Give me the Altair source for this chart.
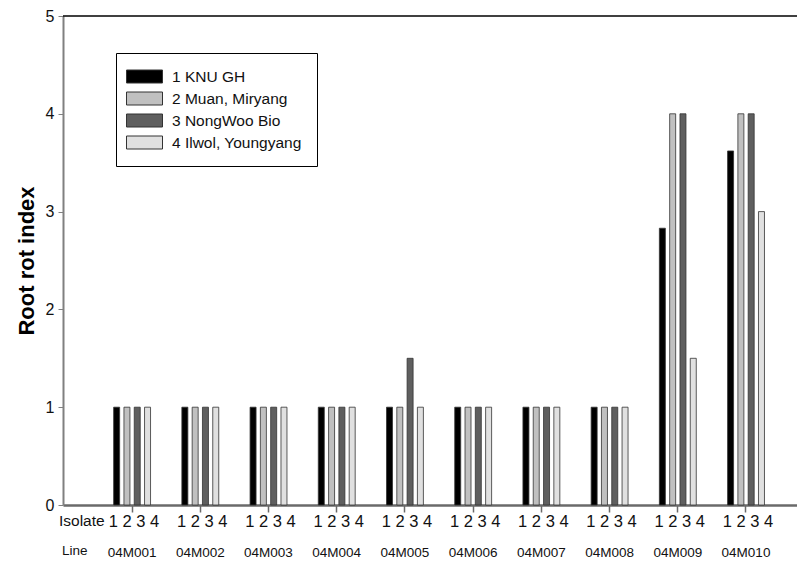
import altair as alt
import pandas as pd

# ---- data ----
lines = ["04M001", "04M002", "04M003", "04M004", "04M005",
         "04M006", "04M007", "04M008", "04M009", "04M010"]
isolates = ["1 KNU GH", "2 Muan, Miryang", "3 NongWoo Bio", "4 Ilwol, Youngyang"]
isolate_nums = ["1", "2", "3", "4"]
knu_gh = [1, 1, 1, 1, 1, 1, 1, 1, 2.83, 3.62]
muan_miryang = [1, 1, 1, 1, 1, 1, 1, 1, 4, 4]
nongwoo_bio = [1, 1, 1, 1, 1.5, 1, 1, 1, 4, 4]
ilwol_youngyang = [1, 1, 1, 1, 1, 1, 1, 1, 1.5, 3]
colors = ["#000000", "#c0c0c0", "#5f5f5f", "#e0e0e0"]
y_ticks = [0, 1, 2, 3, 4, 5]

rows = []
for iso, vals in zip(isolates, [knu_gh, muan_miryang, nongwoo_bio, ilwol_youngyang]):
    for ln, v in zip(lines, vals):
        rows.append({"Line": ln, "Isolate": iso, "Index": v})
df = pd.DataFrame(rows)

lab_df = pd.DataFrame({"Line": lines, "Iso": [" ".join(isolate_nums)] * len(lines)})

FONT = "Liberation Sans"
W, H = 734, 489

x_scale = alt.Scale(domain=lines, paddingInner=0, paddingOuter=0.38, align=0.674)
off_scale = alt.Scale(domain=isolates, range=[15.7, 52.6], paddingInner=0.417, paddingOuter=0)
y_scale = alt.Scale(domain=[0, 5], nice=False)

bars = alt.Chart(df).mark_bar(stroke="#333333", strokeWidth=0.8).encode(
    x=alt.X("Line:N", scale=x_scale, sort=lines,
            axis=alt.Axis(title=None, labelFontSize=13.5, labelPadding=33, labelFont=FONT,
                          labelColor="#111111", domainColor="#6a6a6a", domainWidth=2.5,
                          tickColor="#6a6a6a", tickSize=7, tickWidth=1.5, labelAngle=0)),
    xOffset=alt.XOffset("Isolate:N", scale=off_scale, sort=isolates),
    y=alt.Y("Index:Q", scale=y_scale,
            axis=alt.Axis(title="Root rot index", values=y_ticks, format="d", grid=False,
                          labelFontSize=16, labelFont=FONT, labelColor="#111111",
                          labelPadding=4, tickSize=5, tickColor="#808080",
                          domainColor="#808080", domainWidth=2,
                          titleFont=FONT, titleFontSize=22, titleFontWeight="bold",
                          titleColor="#000000", titlePadding=7)),
    color=alt.Color("Isolate:N", sort=isolates,
                    scale=alt.Scale(domain=isolates, range=colors),
                    legend=alt.Legend(title=None, orient="none", legendX=53, legendY=37,
                                      symbolType="M-1.625,-0.8125H2.875V0.8125H-1.625Z",
                                      symbolSize=256, symbolStrokeColor="#333333",
                                      symbolStrokeWidth=1, symbolOpacity=1,
                                      labelFontSize=15.5, labelFont=FONT, labelColor="#111111",
                                      labelOffset=24, strokeColor="#000000",
                                      fillColor="white", padding=15, rowPadding=5)),
)

top_line = alt.Chart(pd.DataFrame({"v": [5]})).mark_rule(color="#000000", strokeWidth=1.5).encode(
    y=alt.Y("v:Q", scale=y_scale)
)

iso_text = alt.Chart(lab_df).mark_text(fontSize=16.5, font=FONT, color="#111111",
                                       baseline="middle", dy=17, dx=2).encode(
    x=alt.X("Line:N", scale=x_scale, sort=lines),
    y=alt.datum(0),
    text="Iso:N",
)

isolate_word = alt.Chart(pd.DataFrame({"t": ["Isolate"]})).mark_text(
    fontSize=15.5, font=FONT, color="#111111", align="left", baseline="middle", dy=16
).encode(x=alt.value(-4), y=alt.datum(0), text="t:N")

line_word = alt.Chart(pd.DataFrame({"t": ["Line"]})).mark_text(
    fontSize=13.5, font=FONT, color="#111111", align="left", baseline="middle", dy=46
).encode(x=alt.value(-1), y=alt.datum(0), text="t:N")

chart = alt.layer(bars, top_line, iso_text, isolate_word, line_word).properties(
    width=W, height=H,
    autosize=alt.AutoSizeParams(type="none"),
    padding={"left": 55, "top": 8, "right": 0, "bottom": 58},
).configure_view(stroke=None)

chart.save("out.html", embed_options={"renderer": "svg", "actions": False})
